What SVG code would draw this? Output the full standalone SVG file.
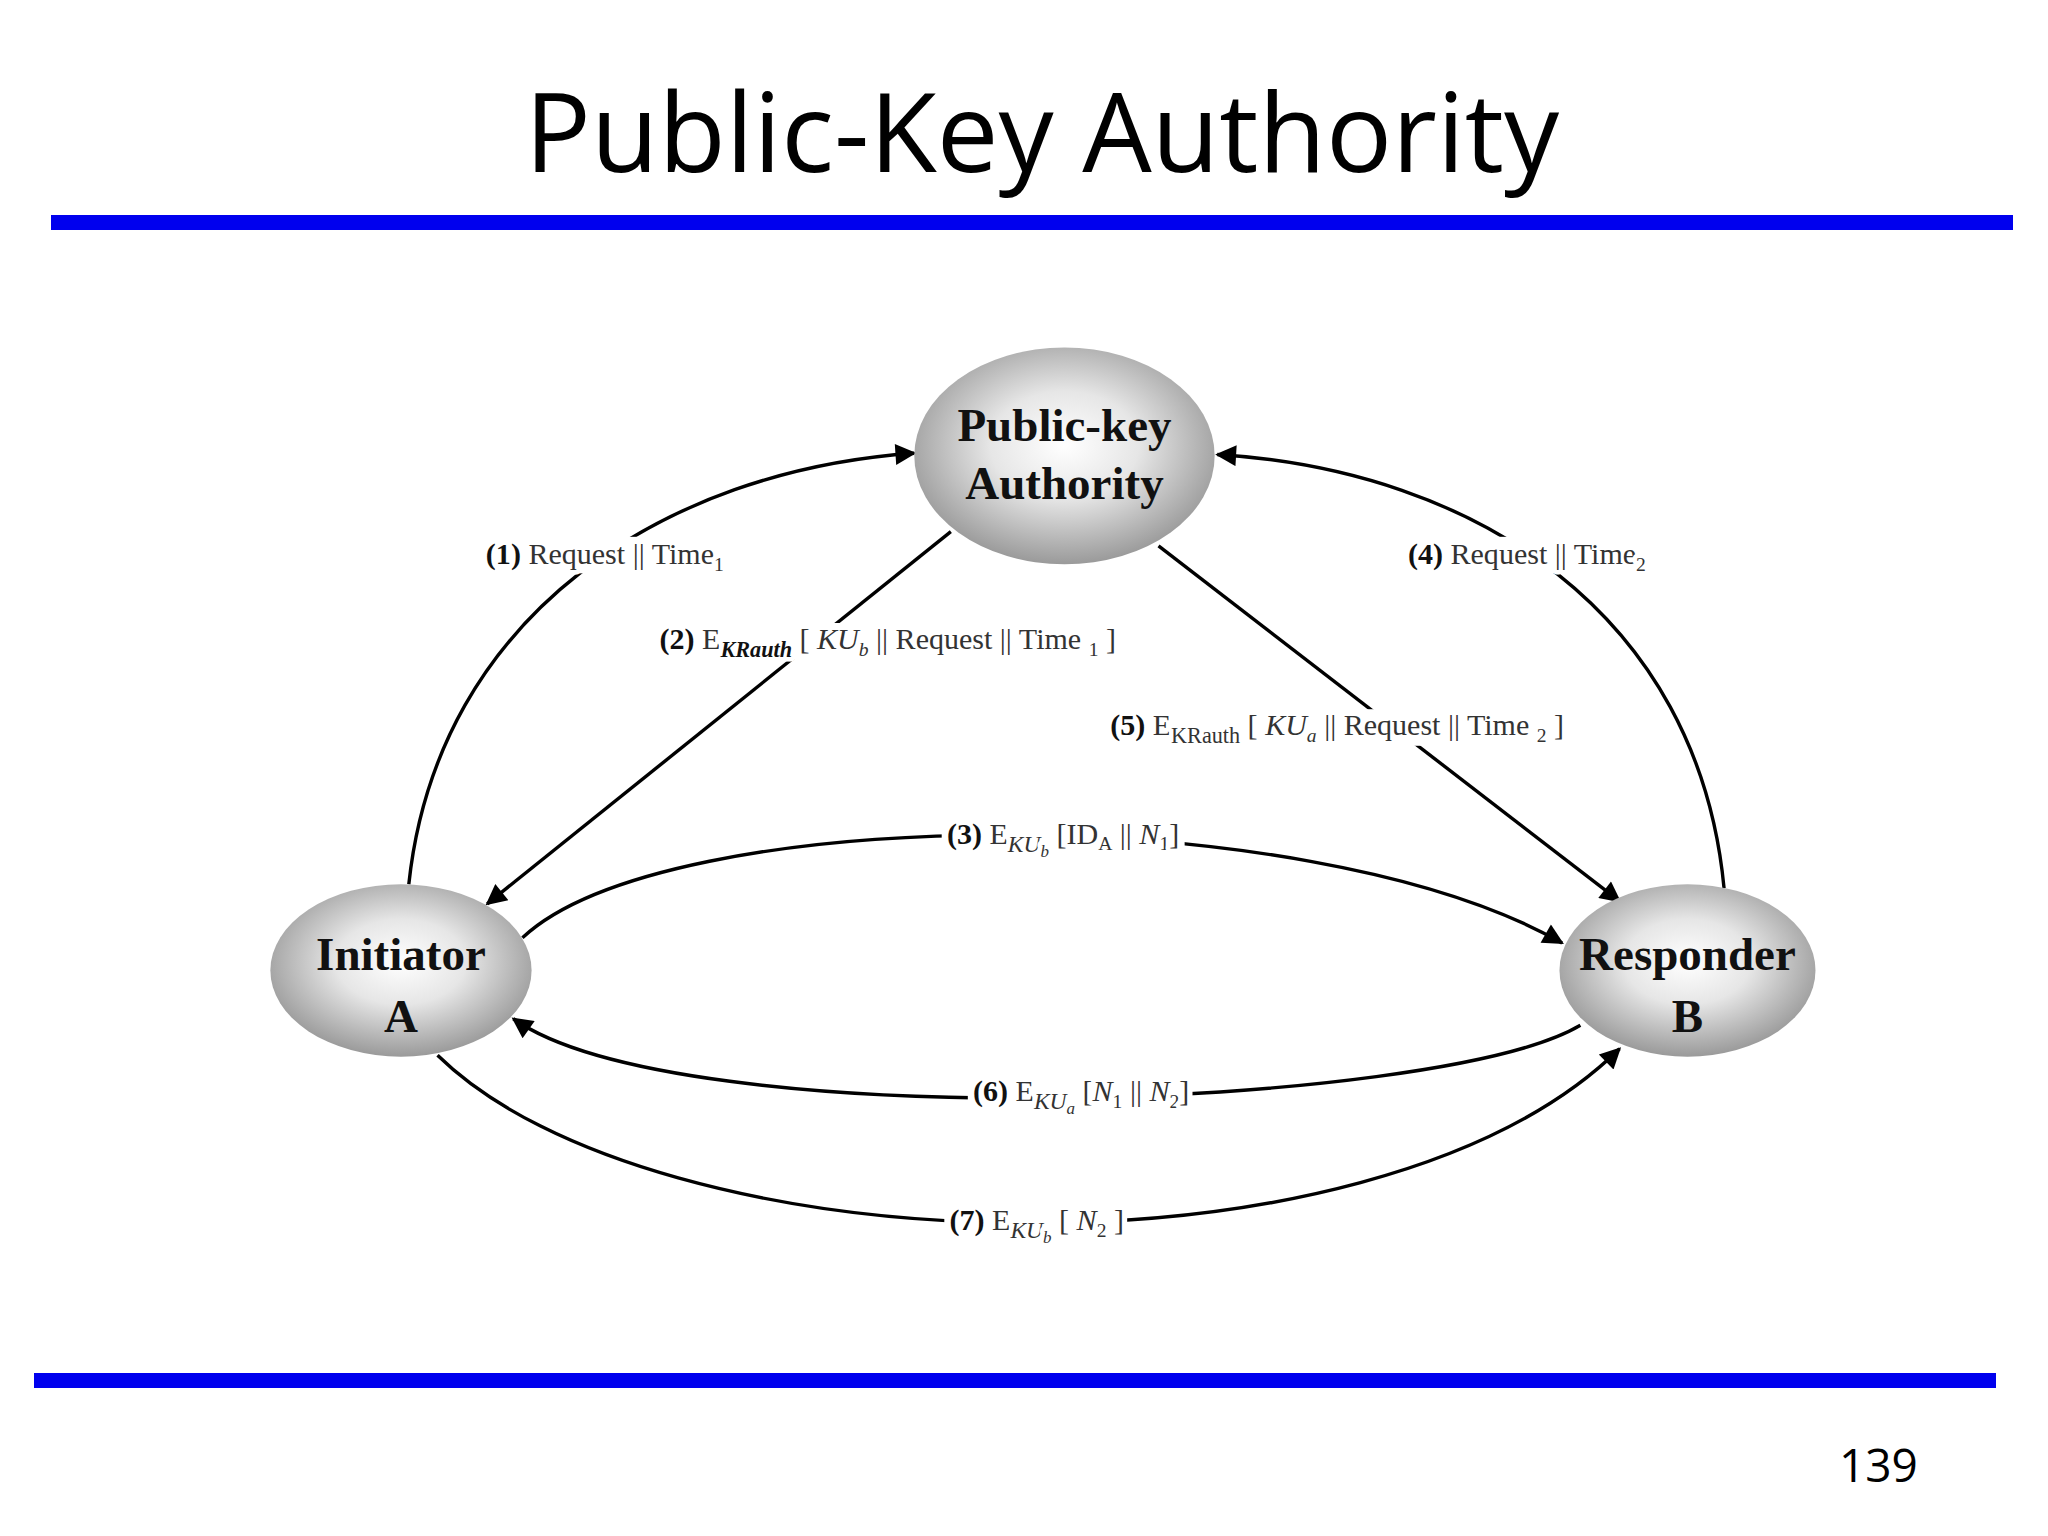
<svg xmlns="http://www.w3.org/2000/svg" width="2048" height="1536" viewBox="0 0 2048 1536">
<style>
.conn{fill:none;stroke:#000;stroke-width:2.6}
.lbl{font-family:"Liberation Serif",serif;font-size:23px;fill:#333;stroke:#fff;stroke-width:7;paint-order:stroke;stroke-linejoin:round}
.bg{fill:#fff}
.b{font-weight:bold;fill:#111}
.i{font-style:italic}
.node{font-family:"Liberation Serif",serif;font-weight:bold;font-size:36px;fill:#111;text-anchor:middle}
</style>
<defs>
<radialGradient id="g" cx="50%" cy="45%" r="55%">
<stop offset="0" stop-color="#ffffff"/><stop offset="0.45" stop-color="#e6e6e6"/><stop offset="1" stop-color="#9a9a9a"/>
</radialGradient>
<marker id="ah" viewBox="0 0 10 10" refX="9" refY="5" markerWidth="22" markerHeight="16" markerUnits="userSpaceOnUse" orient="auto">
<path d="M0,0 L10,5 L0,10 Z" fill="#000"/>
</marker>
</defs>
<rect width="2048" height="1536" fill="#fff"/>
<text x="1042" y="172" font-family="'Open Sans','Noto Sans',sans-serif" font-size="110" text-anchor="middle" fill="#000">Public-Key Authority</text>
<rect x="51" y="215" width="1962" height="15" fill="#0000ee"/>
<rect x="34" y="1373" width="1962" height="15" fill="#0000ee"/>
<text x="1839" y="1482" font-family="'Open Sans','Noto Sans',sans-serif" font-size="46" fill="#000">139</text>
<g transform="scale(1.3061)">
<g id="connectors">
<path class="conn" d="M313,677 C335,470 510,360 700,347" marker-end="url(#ah)"/>
<path class="conn" d="M1320,680 C1300,470 1130,360 932,348" marker-end="url(#ah)"/>
<path class="conn" d="M728,407 L373,692" marker-end="url(#ah)"/>
<path class="conn" d="M887,418 L1240,690" marker-end="url(#ah)"/>
<path class="conn" d="M400,718 C510,615 1000,610 1196,722" marker-end="url(#ah)"/>
<path class="conn" d="M1210,785 C1100,850 520,870 393,780" marker-end="url(#ah)"/>
<path class="conn" d="M335,808 C500,970 1050,990 1240,803" marker-end="url(#ah)"/>
</g>
<g id="labels">
<rect class="bg" x="370" y="411" width="188" height="28"/>
<rect class="bg" x="1076" y="411" width="188" height="28"/>
<rect class="bg" x="503" y="477" width="354" height="28"/>
<rect class="bg" x="848" y="543" width="352" height="28"/>
<rect class="bg" x="721" y="626" width="186" height="30"/>
<rect class="bg" x="741" y="823" width="172" height="30"/>
<rect class="bg" x="723" y="921" width="140" height="30"/>
<text class="lbl" x="372" y="432"><tspan class="b">(1)</tspan>  Request || Time<tspan font-size="15" dy="5">1</tspan></text>
<text class="lbl" x="1078" y="432"><tspan class="b">(4)</tspan>  Request || Time<tspan font-size="15" dy="5">2</tspan></text>
<text class="lbl" x="505" y="497"><tspan class="b">(2)</tspan> E<tspan class="i b" font-size="17" dy="6">KRauth</tspan><tspan dy="-6"> [ </tspan><tspan class="i">KU</tspan><tspan class="i" font-size="15" dy="5">b</tspan><tspan dy="-5"> || Request || Time </tspan><tspan font-size="15" dy="5">1</tspan><tspan dy="-5"> ]</tspan></text>
<text class="lbl" x="850" y="563"><tspan class="b">(5)</tspan> E<tspan font-size="17" dy="6">KRauth</tspan><tspan dy="-6"> [ </tspan><tspan class="i">KU</tspan><tspan class="i" font-size="15" dy="5">a</tspan><tspan dy="-5"> || Request || Time </tspan><tspan font-size="15" dy="5">2</tspan><tspan dy="-5"> ]</tspan></text>
<text class="lbl" x="725" y="646"><tspan class="b">(3)</tspan> E<tspan class="i" font-size="18" dy="6">KU</tspan><tspan class="i" font-size="13" dy="4">b</tspan><tspan dy="-10"> [ID</tspan><tspan font-size="15" dy="5">A</tspan><tspan dy="-5"> || </tspan><tspan class="i">N</tspan><tspan font-size="15" dy="5">1</tspan><tspan dy="-5">]</tspan></text>
<text class="lbl" x="745" y="843"><tspan class="b">(6)</tspan> E<tspan class="i" font-size="18" dy="6">KU</tspan><tspan class="i" font-size="13" dy="4">a</tspan><tspan dy="-10"> [</tspan><tspan class="i">N</tspan><tspan font-size="15" dy="5">1</tspan><tspan dy="-5"> || </tspan><tspan class="i">N</tspan><tspan font-size="15" dy="5">2</tspan><tspan dy="-5">]</tspan></text>
<text class="lbl" x="727" y="942"><tspan class="b">(7)</tspan> E<tspan class="i" font-size="18" dy="6">KU</tspan><tspan class="i" font-size="13" dy="4">b</tspan><tspan dy="-10"> [ </tspan><tspan class="i">N</tspan><tspan font-size="15" dy="5">2</tspan><tspan dy="-5"> ]</tspan></text>
</g>
<g id="pka">
<ellipse cx="815" cy="349" rx="115" ry="83" fill="url(#g)"/>
<text class="node" x="815" y="338">Public-key</text>
<text class="node" x="815" y="382">Authority</text>
</g>
<g id="initiator">
<ellipse cx="307" cy="743" rx="100" ry="66" fill="url(#g)"/>
<text class="node" x="307" y="743">Initiator</text>
<text class="node" x="307" y="790">A</text>
</g>
<g id="responder">
<ellipse cx="1292" cy="743" rx="98" ry="66" fill="url(#g)"/>
<text class="node" x="1292" y="743">Responder</text>
<text class="node" x="1292" y="790">B</text>
</g>
</g>
</svg>
